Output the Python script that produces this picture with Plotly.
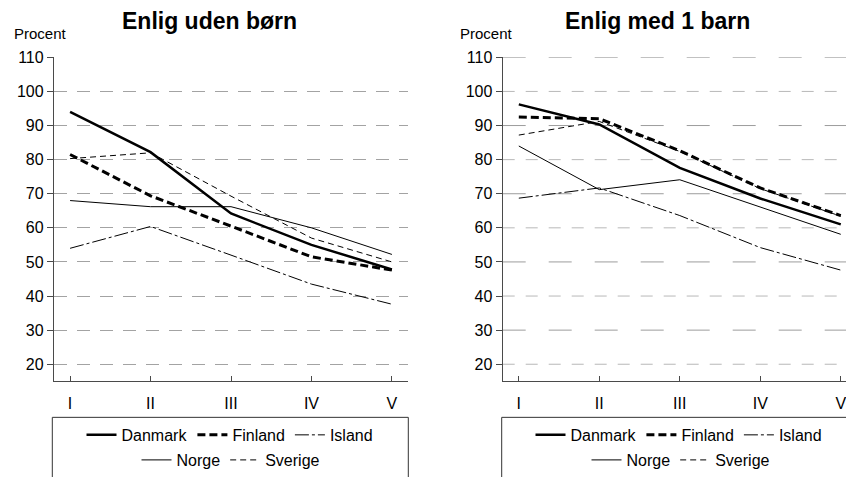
import plotly.graph_objects as go
from plotly.subplots import make_subplots

# Income groups on the x axis
categories = ["I", "II", "III", "IV", "V"]
countries = ["Danmark", "Finland", "Island", "Norge", "Sverige"]
y_ticks = [20, 30, 40, 50, 60, 70, 80, 90, 100, 110]

# Enlig uden børn (procent)
uden_danmark = [94.0, 82.2, 64.2, 55.0, 47.8]
uden_finland = [81.5, 69.4, 60.5, 51.5, 47.6]
uden_island = [54.0, 60.4, 52.0, 43.5, 37.6]
uden_norge = [68.0, 66.2, 66.2, 60.0, 52.2]
uden_sverige = [80.3, 82.0, 69.3, 57.0, 50.0]

# Enlig med 1 barn (procent)
med_danmark = [96.2, 90.3, 77.6, 68.6, 61.0]
med_finland = [92.5, 92.0, 82.6, 71.7, 63.6]
med_island = [68.7, 71.7, 63.6, 54.2, 47.6]
med_norge = [84.0, 71.2, 74.1, 66.2, 58.1]
med_sverige = [87.2, 91.2, 82.4, 71.5, 63.4]

panels = [
    ("Enlig uden børn", [uden_danmark, uden_finland, uden_island, uden_norge, uden_sverige]),
    ("Enlig med 1 barn", [med_danmark, med_finland, med_island, med_norge, med_sverige]),
]

line_styles = {
    "Danmark": dict(color="black", width=2.5, dash="solid"),
    "Finland": dict(color="black", width=3, dash="8px,4px"),
    "Island": dict(color="black", width=1, dash="14px,3px,3px,3px"),
    "Norge": dict(color="black", width=1, dash="solid"),
    "Sverige": dict(color="black", width=1, dash="6px,4px"),
}
first_row = {"Danmark", "Finland", "Island"}

FONT = "Liberation Sans, Arial, sans-serif"
W, H = 846, 477

fig = make_subplots(rows=1, cols=2)

for col, (title, series) in enumerate(panels, start=1):
    for name, values in zip(countries, series):
        row_legend = 1 if name in first_row else 2
        legend_id = "legend" if (col == 1 and row_legend == 1) else f"legend{(col - 1) * 2 + row_legend}"
        fig.add_trace(
            go.Scatter(
                x=categories,
                y=values,
                mode="lines",
                name=name,
                line=line_styles[name],
                legend=legend_id,
                hoverinfo="skip",
            ),
            row=1,
            col=col,
        )

px_x = lambda p: p / W
px_y = lambda p: 1 - p / H

axis_common = dict(
    showline=True,
    linecolor="#4a4a4a",
    linewidth=1.3,
    tickfont=dict(family=FONT, size=16, color="black"),
    zeroline=False,
    automargin=False,
)

fig.update_layout(
    width=W,
    height=H,
    autosize=False,
    margin=dict(l=0, r=0, t=0, b=0),
    paper_bgcolor="white",
    plot_bgcolor="white",
    font=dict(family=FONT, color="black"),
    xaxis=dict(domain=[px_x(54), px_x(408)], type="category", range=[-0.2, 4.2],
               ticks="inside", ticklen=5, tickcolor="#4a4a4a", showgrid=False,
               ticklabelstandoff=7, **axis_common),
    xaxis2=dict(domain=[px_x(502.7), 1.0], type="category", range=[-0.2, 4.065],
                ticks="inside", ticklen=5, tickcolor="#4a4a4a", showgrid=False,
                ticklabelstandoff=7, **axis_common),
    yaxis=dict(domain=[px_y(383.7), px_y(57.7)], range=[15, 110], tickvals=y_ticks,
               ticks="outside", ticklen=6, tickcolor="#4a4a4a",
               showgrid=True, gridcolor="#a3a3a3", gridwidth=1, griddash="13px,10px",
               **axis_common),
    yaxis2=dict(domain=[px_y(383.7), px_y(57.7)], range=[15, 110], tickvals=y_ticks,
                ticks="outside", ticklen=6, tickcolor="#4a4a4a", showgrid=False,
                **axis_common),
)

# Gridlines of the right panel alternate between long and short dashes
for v in y_ticks:
    long_dash = (v // 10) % 2 == 1
    fig.add_hline(
        y=v, row=1, col=2, layer="below",
        line=dict(color="#9c9c9c" if long_dash else "#b8b8b8", width=1,
                  dash="23px,23px" if long_dash else "12px,11px"),
    )

# Legends: two centred rows under each panel
legend_common = dict(
    orientation="h",
    xanchor="center",
    yanchor="middle",
    bgcolor="rgba(0,0,0,0)",
    borderwidth=0,
    font=dict(family=FONT, size=16, color="black"),
    traceorder="normal",
)
fig.update_layout(
    legend=dict(x=px_x(230), y=px_y(437.7), **legend_common),
    legend2=dict(x=px_x(231), y=px_y(463.3), **legend_common),
    legend3=dict(x=px_x(679), y=px_y(437.7), **legend_common),
    legend4=dict(x=px_x(681), y=px_y(463.3), **legend_common),
)

# Legend frames
for x0, x1 in [(52.3, 408.3), (501.7, 870)]:
    fig.add_shape(type="rect", xref="paper", yref="paper",
                  x0=px_x(x0), x1=px_x(x1), y0=px_y(490), y1=px_y(420),
                  line=dict(color="#333333", width=1), fillcolor="rgba(0,0,0,0)")

# Panel titles and y-axis captions
for (title, _), cx, lx in zip(panels, [209, 657.7], [12, 457.7]):
    fig.add_annotation(text=f"<b>{title}</b>", xref="paper", yref="paper",
                       x=px_x(cx), y=px_y(21.5), xanchor="center", yanchor="middle",
                       showarrow=False, font=dict(family=FONT, size=23, color="black"))
    fig.add_annotation(text="Procent", xref="paper", yref="paper",
                       x=px_x(lx), y=px_y(34), xanchor="left", yanchor="middle",
                       showarrow=False, font=dict(family=FONT, size=15, color="black"))

fig.write_html("out.html")
